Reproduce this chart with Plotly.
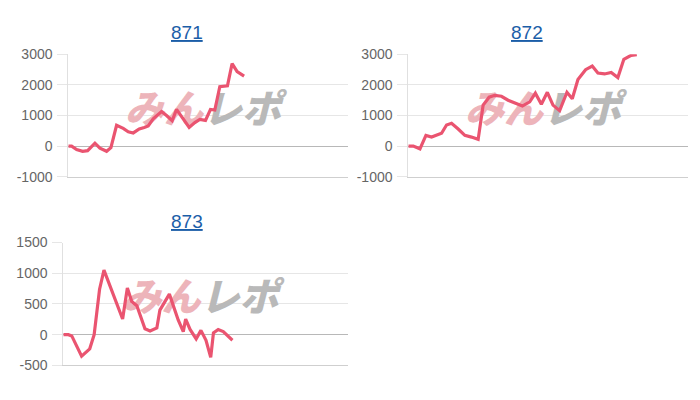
import plotly.graph_objects as go

# ---- data (x = games played, y = coin difference) ----
titles = ["871", "872", "873"]

games_871 = [0, 100, 250, 430, 580, 800, 950, 1150, 1280, 1450, 1650, 1800, 1950, 2130,
             2280, 2400, 2550, 2650, 2800, 2950, 3120, 3250, 3430, 3630, 3800, 3950,
             4120, 4270, 4400, 4550, 4780, 4920, 5070, 5280]
diff_871 = [0, 0, -110, -170, -150, 95, -70, -170, -50, 680, 580, 470, 430, 560,
            610, 660, 890, 1000, 1130, 1000, 830, 1200, 920, 610, 770, 870,
            840, 1200, 1180, 1940, 1970, 2700, 2440, 2290]

games_872 = [0, 150, 350, 530, 700, 900, 1000, 1150, 1300, 1500, 1700, 1900, 2100, 2250,
             2430, 2600, 2800, 3000, 3200, 3430, 3650, 3820, 4000, 4180, 4350, 4550,
             4770, 4930, 5100, 5330, 5530, 5700, 5900, 6100, 6300, 6480, 6700, 6870]
diff_872 = [0, 0, -90, 350, 295, 370, 420, 690, 745, 560, 350, 295, 220, 1340,
            1600, 1660, 1630, 1500, 1400, 1310, 1450, 1730, 1370, 1760, 1340, 1160,
            1760, 1550, 2180, 2500, 2620, 2390, 2360, 2410, 2240, 2840, 2970, 2990]

games_873 = [0, 150, 250, 540, 780, 910, 1070, 1200, 1750, 1890, 2020, 2170, 2410, 2560,
             2760, 2850, 3130, 3250, 3390, 3540, 3610, 3740, 3920, 4060, 4210, 4350,
             4430, 4570, 4720, 4990]
diff_873 = [0, 0, -20, -350, -230, 0, 740, 1050, 255, 760, 540, 470, 95, 60,
            110, 400, 660, 470, 240, 50, 255, 85, -70, 70, -90, -370,
            30, 85, 50, -90]

x_range = [0, 8400]
y_ranges = [[-1000, 3000], [-1000, 3000], [-500, 1500]]
tickvals_big = [-1000, 0, 1000, 2000, 3000]
ticktext_big = ["-1000", "0", "1000", "2000", "3000"]
tickvals_small = [-500, 0, 500, 1000, 1500]
ticktext_small = ["-500", "0", "500", "1000", "1500"]
ticks = [(tickvals_big, ticktext_big), (tickvals_big, ticktext_big), (tickvals_small, ticktext_small)]

series = [(games_871, diff_871), (games_872, diff_872), (games_873, diff_873)]

# ---- layout geometry (pixels) ----
W, H = 700, 400
# (left, right, top, bottom) of each plot area in pixels
boxes = [(68.3, 348.0, 48.3, 175.7), (408.3, 687.7, 48.3, 175.7), (63.3, 348.0, 244.3, 372.3)]
title_pos = [(187, 26), (527, 26), (187, 222.5)]

LINE = "rgb(234,84,112)"
FONT = "Liberation Sans, Arial, sans-serif"

fig = go.Figure()
layout = dict(width=W, height=H, margin=dict(l=0, r=0, t=0, b=0),
              paper_bgcolor="white", plot_bgcolor="white", showlegend=False,
              annotations=[])

for i, ((gx, gy), (l, r, t, b), yr, (tv, tt)) in enumerate(zip(series, boxes, y_ranges, ticks)):
    sfx = "" if i == 0 else str(i + 1)
    xa, ya = "x" + sfx, "y" + sfx
    # watermark (drawn first so that the line sits on top)
    span = yr[1] - yr[0]
    xspan = x_range[1] - x_range[0]
    fig.add_trace(go.Scatter(
        x=[(x_range[0] + x_range[1]) / 2 - 0.018 * xspan], y=[(yr[0] + yr[1]) / 2 + 0.02 * span],
        mode="text",
        text=["<span style='color:#edb4ba'>みん</span><span style='color:#b9b9b9'>レポ</span>"],
        textposition="middle center",
        textfont=dict(family="Noto Sans CJK JP", size=39, weight=900, style="italic"),
        hoverinfo="skip", xaxis=xa, yaxis=ya))
    fig.add_trace(go.Scatter(x=gx, y=gy, mode="lines",
                             line=dict(color=LINE, width=3.2),
                             xaxis=xa, yaxis=ya))
    layout["xaxis" + sfx] = dict(domain=[l / W, r / W], range=x_range, anchor=ya,
                                 showgrid=False, zeroline=False, showticklabels=False,
                                 showline=True, linecolor="#cfcfcf", linewidth=1,
                                 ticks="", fixedrange=True)
    layout["yaxis" + sfx] = dict(domain=[1 - b / H, 1 - t / H], range=yr, anchor=xa,
                                 tickmode="array", tickvals=tv, ticktext=tt,
                                 showgrid=True, gridcolor="#e6e6e6",
                                 gridwidth=1, zeroline=True, zerolinecolor="#b8b8b8",
                                 zerolinewidth=1, showline=True, linecolor="#e0e0e0",
                                 ticks="outside", ticklen=10, tickcolor="#e6e6e6",
                                 ticklabelstandoff=2,
                                 tickfont=dict(family=FONT, size=14, color="#666666"),
                                 fixedrange=True)
    tx, ty = title_pos[i]
    layout["annotations"].append(dict(
        text="<u>" + titles[i] + "</u>", x=tx / W, y=1 - ty / H, xref="paper", yref="paper",
        xanchor="center", yanchor="middle", showarrow=False,
        font=dict(family=FONT, size=19, color="#1b5ea8")))

fig.update_layout(**layout)
fig.write_html("out.html", config={"displayModeBar": False},
               post_script="document.body.style.margin='0px';")
